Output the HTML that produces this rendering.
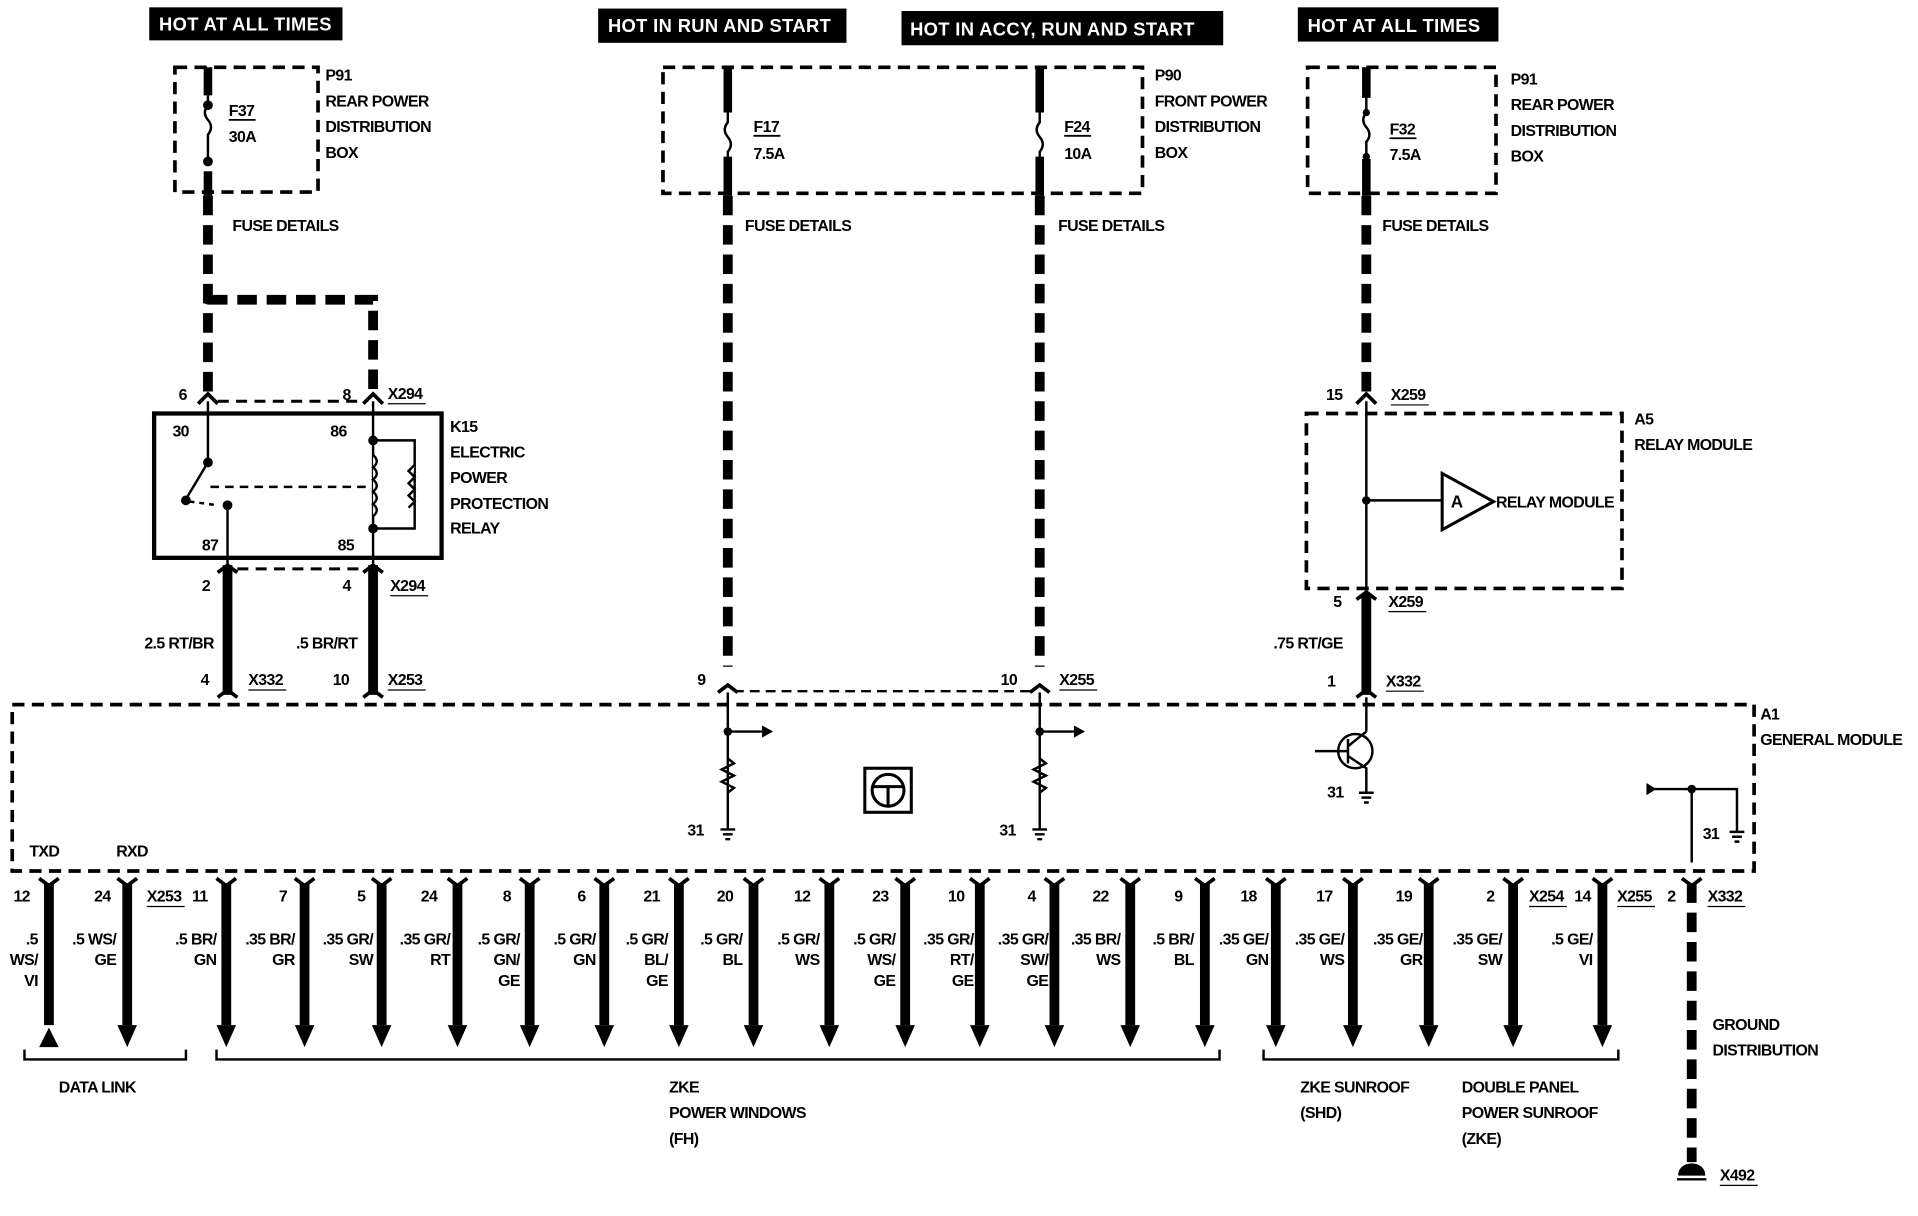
<!DOCTYPE html>
<html><head><meta charset="utf-8"><style>
html,body{margin:0;padding:0;background:#fff;}
svg{display:block}
text{font-family:"Liberation Sans",sans-serif;font-weight:bold;font-size:13px;fill:#000;letter-spacing:-0.5px}
.w{fill:#fff;font-size:15px;letter-spacing:0.3px}
</style></head><body>
<svg width="1918" height="1216" viewBox="0 0 1568 994" preserveAspectRatio="none" xmlns="http://www.w3.org/2000/svg">
<rect width="1568" height="994" fill="#fff"/>
<!-- header boxes -->
<rect x="122" y="6" width="158" height="27" fill="#000"/><text class="w" x="130" y="25">HOT AT ALL TIMES</text>
<rect x="489" y="7" width="203" height="28" fill="#000"/><text class="w" x="497" y="26">HOT IN RUN AND START</text>
<rect x="737" y="9" width="263" height="28" fill="#000"/><text class="w" x="744" y="29">HOT IN ACCY, RUN AND START</text>
<rect x="1061" y="6" width="164" height="28" fill="#000"/><text class="w" x="1069" y="26">HOT AT ALL TIMES</text>

<g fill="none" stroke="#000">
<!-- fuse boxes -->
<rect x="143" y="55" width="117" height="102" stroke-width="3" stroke-dasharray="10,6"/>
<rect x="542" y="55" width="392" height="103" stroke-width="3" stroke-dasharray="10,6"/>
<rect x="1069" y="55" width="154" height="103" stroke-width="3" stroke-dasharray="10,6"/>
<!-- left top wire -->
<line x1="170" y1="55" x2="170" y2="78" stroke-width="7"/>
<line x1="170" y1="140" x2="170" y2="160" stroke-width="7"/>
<line x1="170" y1="160" x2="170" y2="320" stroke-width="8" stroke-dasharray="16,8"/>
<polyline points="170,245 305,245 305,320" stroke-width="8" stroke-dasharray="16,8"/>
<!-- middle wires -->
<line x1="595" y1="55" x2="595" y2="92" stroke-width="7"/>
<line x1="595" y1="128" x2="595" y2="160" stroke-width="7"/>
<line x1="595" y1="160" x2="595" y2="545" stroke-width="8" stroke-dasharray="16,8"/>
<line x1="850" y1="55" x2="850" y2="92" stroke-width="7"/>
<line x1="850" y1="128" x2="850" y2="160" stroke-width="7"/>
<line x1="850" y1="160" x2="850" y2="545" stroke-width="8" stroke-dasharray="16,8"/>
<!-- right top -->
<line x1="1117" y1="55" x2="1117" y2="80" stroke-width="7"/>
<line x1="1117" y1="130" x2="1117" y2="160" stroke-width="7"/>
<line x1="1117" y1="160" x2="1117" y2="320" stroke-width="8" stroke-dasharray="16,8"/>
<!-- fuse symbols -->
<path d="M170 78 v8 q-5 6 0 12 q5 6 0 12 v22" stroke-width="2"/>
<path d="M595 92 v8 q-5 6 0 12 q5 6 0 12 v4" stroke-width="2"/>
<path d="M850 92 v8 q-5 6 0 12 q5 6 0 12 v4" stroke-width="2"/>
<path d="M1117 80 v12 q-5 6 0 12 q5 6 0 12 v14" stroke-width="2"/>
</g>
<circle cx="170" cy="86" r="4"/><circle cx="170" cy="132" r="4"/><circle cx="170" cy="245" r="4"/>
<circle cx="1117" cy="92" r="3"/><circle cx="1117" cy="128" r="3"/>

<!-- fuse labels -->
<text x="187" y="95">F37</text><line x1="187" y1="98" x2="209" y2="98" stroke="#000" stroke-width="1.5"/><text x="187" y="116">30A</text>
<text x="266" y="66">P91</text><text x="266" y="87">REAR POWER</text><text x="266" y="108">DISTRIBUTION</text><text x="266" y="129">BOX</text>
<text x="616" y="108">F17</text><line x1="616" y1="111" x2="638" y2="111" stroke="#000" stroke-width="1.5"/><text x="616" y="130">7.5A</text>
<text x="870" y="108">F24</text><line x1="870" y1="111" x2="892" y2="111" stroke="#000" stroke-width="1.5"/><text x="870" y="130">10A</text>
<text x="944" y="66">P90</text><text x="944" y="87">FRONT POWER</text><text x="944" y="108">DISTRIBUTION</text><text x="944" y="129">BOX</text>
<text x="1136" y="110">F32</text><line x1="1136" y1="113" x2="1158" y2="113" stroke="#000" stroke-width="1.5"/><text x="1136" y="131">7.5A</text>
<text x="1235" y="69">P91</text><text x="1235" y="90">REAR POWER</text><text x="1235" y="111">DISTRIBUTION</text><text x="1235" y="132">BOX</text>
<text x="190" y="189">FUSE DETAILS</text><text x="609" y="189">FUSE DETAILS</text><text x="865" y="189">FUSE DETAILS</text><text x="1130" y="189">FUSE DETAILS</text>

<!-- relay K15 -->
<g fill="none" stroke="#000">
<path d="M162 330 l8 -8 l8 8 M297 330 l8 -8 l8 8" stroke-width="3"/>
<line x1="178" y1="328" x2="297" y2="328" stroke-width="2.5" stroke-dasharray="9,6"/>
<rect x="126" y="338" width="235" height="118" stroke-width="3.5"/>
<line x1="170" y1="328" x2="170" y2="378" stroke-width="2"/>
<line x1="170" y1="378" x2="152" y2="408" stroke-width="2"/>
<line x1="172" y1="398" x2="300" y2="398" stroke-width="2" stroke-dasharray="7,5"/>
<line x1="155" y1="410" x2="178" y2="413" stroke-width="2" stroke-dasharray="4,4"/>
<line x1="186" y1="413" x2="186" y2="470" stroke-width="2"/>
<line x1="305" y1="328" x2="305" y2="470" stroke-width="2"/>
<path d="M305 360 h34 v72 h-34" stroke-width="2"/>
<path d="M305 372 q6 5 0 10 q6 5 0 10 q6 5 0 10 q6 5 0 10 q6 5 0 10" stroke-width="2" fill="#fff"/>
<path d="M339 380 l-5 5 l5 5 l-5 5 l5 5 l-5 5 l5 5 l-5 5" stroke-width="2" fill="#fff"/>
<path d="M178 468 l8 -6 l8 6 M297 468 l8 -6 l8 6" stroke-width="3"/>
<line x1="194" y1="465" x2="297" y2="465" stroke-width="2.5" stroke-dasharray="9,6"/>
<line x1="186" y1="462" x2="186" y2="568" stroke-width="8"/>
<line x1="305" y1="462" x2="305" y2="568" stroke-width="8"/>
<path d="M178 570 l8 -6 l8 6 M297 570 l8 -6 l8 6" stroke-width="3"/>
</g>
<circle cx="170" cy="378" r="4"/><circle cx="152" cy="409" r="4"/><circle cx="186" cy="413" r="4"/>
<circle cx="305" cy="360" r="4"/><circle cx="305" cy="432" r="4"/>
<text x="146" y="327">6</text><text x="280" y="327">8</text><text x="317" y="326">X294</text><line x1="317" y1="330" x2="348" y2="330" stroke="#000"/>
<text x="141" y="357">30</text><text x="270" y="357">86</text><text x="165" y="450">87</text><text x="276" y="450">85</text>
<text x="368" y="353">K15</text><text x="368" y="374">ELECTRIC</text><text x="368" y="395">POWER</text><text x="368" y="416">PROTECTION</text><text x="368" y="436">RELAY</text>
<text x="165" y="483">2</text><text x="280" y="483">4</text><text x="319" y="483">X294</text><line x1="319" y1="487" x2="350" y2="487" stroke="#000"/>
<text x="118" y="530">2.5 RT/BR</text><text x="242" y="530">.5 BR/RT</text>
<text x="164" y="560">4</text><text x="272" y="560">10</text><text x="203" y="560">X332</text><line x1="203" y1="564" x2="234" y2="564" stroke="#000"/><text x="317" y="560">X253</text><line x1="317" y1="564" x2="348" y2="564" stroke="#000"/>

<!-- middle connectors -->
<g fill="none" stroke="#000">
<path d="M587 566 l8 -6 l8 6 M842 566 l8 -6 l8 6" stroke-width="3"/>
<line x1="600" y1="565" x2="842" y2="565" stroke-width="2" stroke-dasharray="8,5"/>
<line x1="595" y1="566" x2="595" y2="678" stroke-width="2"/>
<line x1="850" y1="566" x2="850" y2="678" stroke-width="2"/>
<path d="M595 598 h28 M850 598 h28" stroke-width="2"/>
<path d="M595 620 l5 4 l-10 5 l10 5 l-10 5 l10 5 l-5 4" stroke-width="2"/>
<path d="M850 620 l5 4 l-10 5 l10 5 l-10 5 l10 5 l-5 4" stroke-width="2"/>
<rect x="707" y="628" width="38" height="36" stroke-width="2.5"/>
<circle cx="726" cy="646" r="13" stroke-width="2.5"/>
<path d="M714 643 h24 M726 643 v16" stroke-width="2.5"/>
</g>
<path d="M623 593 l9 5 l-9 5z M878 593 l9 5 l-9 5z"/>
<circle cx="595" cy="598" r="3.5"/><circle cx="850" cy="598" r="3.5"/>
<path d="M589 678 h12 M591 682 h8 M593 686 h4 M844 678 h12 M846 682 h8 M848 686 h4" stroke="#000" stroke-width="2"/>
<text x="570" y="560">9</text><text x="818" y="560">10</text><text x="866" y="560">X255</text><line x1="866" y1="564" x2="897" y2="564" stroke="#000"/>
<text x="562" y="683">31</text><text x="817" y="683">31</text>

<!-- A5 relay module -->
<g fill="none" stroke="#000">
<path d="M1109 330 l8 -8 l8 8" stroke-width="3"/>
<rect x="1068" y="338" width="258" height="143" stroke-width="3" stroke-dasharray="10,6"/>
<line x1="1117" y1="328" x2="1117" y2="490" stroke-width="2"/>
<line x1="1117" y1="409" x2="1178" y2="409" stroke-width="2"/>
<path d="M1179 387 v46 l42 -23z" stroke-width="2.5"/>
<path d="M1109 490 l8 -6 l8 6" stroke-width="3"/>
<line x1="1117" y1="486" x2="1117" y2="568" stroke-width="8"/>
<path d="M1109 570 l8 -6 l8 6" stroke-width="3"/>
<line x1="1117" y1="570" x2="1117" y2="598" stroke-width="2"/>
<circle cx="1108" cy="614" r="14" stroke-width="2"/>
<path d="M1102 604 v20 M1102 610 l15 -12 M1102 618 l15 10 v20 M1075 614 h27" stroke-width="2"/>
</g>
<circle cx="1117" cy="409" r="3.5"/>
<path d="M1111 648 h12 M1113 652 h8 M1115 656 h4" stroke="#000" stroke-width="2"/>
<text x="1186" y="415" style="font-size:14px">A</text>
<text x="1223" y="415">RELAY MODULE</text>
<text x="1084" y="327">15</text><text x="1137" y="327">X259</text><line x1="1137" y1="331" x2="1168" y2="331" stroke="#000"/>
<text x="1336" y="347">A5</text><text x="1336" y="368">RELAY MODULE</text>
<text x="1090" y="496">5</text><text x="1135" y="496">X259</text><line x1="1135" y1="500" x2="1166" y2="500" stroke="#000"/>
<text x="1041" y="530">.75 RT/GE</text>
<text x="1085" y="561">1</text><text x="1133" y="561">X332</text><line x1="1133" y1="565" x2="1164" y2="565" stroke="#000"/>
<text x="1085" y="652">31</text>

<!-- A1 general module -->
<rect x="10" y="576" width="1424" height="136" fill="none" stroke="#000" stroke-width="3" stroke-dasharray="10,6"/>
<text x="1439" y="588">A1</text><text x="1439" y="609">GENERAL MODULE</text>
<g fill="none" stroke="#000" stroke-width="2">
<path d="M1350 645 h70 v35 M1383 645 v60"/>
</g>
<path d="M1346 640 l8 5 l-8 5z"/>
<circle cx="1383" cy="645" r="3.5"/>
<path d="M1414 680 h12 M1416 684 h8 M1418 688 h4" stroke="#000" stroke-width="2"/>
<text x="1392" y="686">31</text>
<text x="24" y="700">TXD</text><text x="95" y="700">RXD</text>

<!-- bottom pins -->
<g fill="none" stroke="#000">
<path d="M32 718 l8 6 l8 -6 M96 718 l8 6 l8 -6 M177 718 l8 6 l8 -6 M241 718 l8 6 l8 -6 M304 718 l8 6 l8 -6 M366 718 l8 6 l8 -6 M425 718 l8 6 l8 -6 M486 718 l8 6 l8 -6 M547 718 l8 6 l8 -6 M608 718 l8 6 l8 -6 M670 718 l8 6 l8 -6 M732 718 l8 6 l8 -6 M793 718 l8 6 l8 -6 M854 718 l8 6 l8 -6 M916 718 l8 6 l8 -6 M977 718 l8 6 l8 -6 M1035 718 l8 6 l8 -6 M1098 718 l8 6 l8 -6 M1160 718 l8 6 l8 -6 M1229 718 l8 6 l8 -6 M1302 718 l8 6 l8 -6 M1375 718 l8 6 l8 -6" stroke-width="3"/>
<path d="M40 722 V838 M104 722 V838 M185 722 V838 M249 722 V838 M312 722 V838 M374 722 V838 M433 722 V838 M494 722 V838 M555 722 V838 M616 722 V838 M678 722 V838 M740 722 V838 M801 722 V838 M862 722 V838 M924 722 V838 M985 722 V838 M1043 722 V838 M1106 722 V838 M1168 722 V838 M1237 722 V838 M1310 722 V838" stroke-width="8"/>
<line x1="1383" y1="722" x2="1383" y2="950" stroke-width="8" stroke-dasharray="16,8"/>
<path d="M20 858 v8 h132 v-8 M177 858 v8 h820 v-8 M1033 858 v8 h290 v-8" stroke-width="2"/>
</g>
<path d="M32 856 l8 -16 l8 16z"/>
<g>
<path d="M96 838 l8 18 l8 -18z M177 838 l8 18 l8 -18z M241 838 l8 18 l8 -18z M304 838 l8 18 l8 -18z M366 838 l8 18 l8 -18z M425 838 l8 18 l8 -18z M486 838 l8 18 l8 -18z M547 838 l8 18 l8 -18z M608 838 l8 18 l8 -18z M670 838 l8 18 l8 -18z M732 838 l8 18 l8 -18z M793 838 l8 18 l8 -18z M854 838 l8 18 l8 -18z M916 838 l8 18 l8 -18z M977 838 l8 18 l8 -18z M1035 838 l8 18 l8 -18z M1098 838 l8 18 l8 -18z M1160 838 l8 18 l8 -18z M1229 838 l8 18 l8 -18z M1302 838 l8 18 l8 -18z"/>
</g>
<path d="M1373 960 a10 8 0 0 1 20 0z M1371 964 h24" stroke="#000" stroke-width="2"/>
<path d="M1373 960 a10 8 0 0 1 20 0z"/>

<!-- pin numbers -->
<text x="11" y="737">12</text><text x="77" y="737">24</text><text x="120" y="737">X253</text><line x1="120" y1="741" x2="151" y2="741" stroke="#000"/><text x="157" y="737">11</text>
<text x="228" y="737">7</text><text x="292" y="737">5</text><text x="344" y="737">24</text><text x="411" y="737">8</text><text x="472" y="737">6</text><text x="526" y="737">21</text><text x="586" y="737">20</text><text x="649" y="737">12</text><text x="713" y="737">23</text><text x="775" y="737">10</text><text x="840" y="737">4</text><text x="893" y="737">22</text><text x="960" y="737">9</text><text x="1014" y="737">18</text><text x="1076" y="737">17</text><text x="1141" y="737">19</text><text x="1215" y="737">2</text><text x="1250" y="737">X254</text><line x1="1250" y1="741" x2="1281" y2="741" stroke="#000"/><text x="1287" y="737">14</text><text x="1322" y="737">X255</text><line x1="1322" y1="741" x2="1353" y2="741" stroke="#000"/><text x="1363" y="737">2</text><text x="1396" y="737">X332</text><line x1="1396" y1="741" x2="1427" y2="741" stroke="#000"/>

<!-- wire labels -->
<g text-anchor="end">
<text x="31" y="772">.5</text><text x="31" y="789">WS/</text><text x="31" y="806">VI</text>
<text x="95" y="772">.5 WS/</text><text x="95" y="789">GE</text>
<text x="177" y="772">.5 BR/</text><text x="177" y="789">GN</text>
<text x="241" y="772">.35 BR/</text><text x="241" y="789">GR</text>
<text x="305" y="772">.35 GR/</text><text x="305" y="789">SW</text>
<text x="368" y="772">.35 GR/</text><text x="368" y="789">RT</text>
<text x="425" y="772">.5 GR/</text><text x="425" y="789">GN/</text><text x="425" y="806">GE</text>
<text x="487" y="772">.5 GR/</text><text x="487" y="789">GN</text>
<text x="546" y="772">.5 GR/</text><text x="546" y="789">BL/</text><text x="546" y="806">GE</text>
<text x="607" y="772">.5 GR/</text><text x="607" y="789">BL</text>
<text x="670" y="772">.5 GR/</text><text x="670" y="789">WS</text>
<text x="732" y="772">.5 GR/</text><text x="732" y="789">WS/</text><text x="732" y="806">GE</text>
<text x="796" y="772">.35 GR/</text><text x="796" y="789">RT/</text><text x="796" y="806">GE</text>
<text x="857" y="772">.35 GR/</text><text x="857" y="789">SW/</text><text x="857" y="806">GE</text>
<text x="916" y="772">.35 BR/</text><text x="916" y="789">WS</text>
<text x="976" y="772">.5 BR/</text><text x="976" y="789">BL</text>
<text x="1037" y="772">.35 GE/</text><text x="1037" y="789">GN</text>
<text x="1099" y="772">.35 GE/</text><text x="1099" y="789">WS</text>
<text x="1163" y="772">.35 GE/</text><text x="1163" y="789">GR</text>
<text x="1228" y="772">.35 GE/</text><text x="1228" y="789">SW</text>
<text x="1302" y="772">.5 GE/</text><text x="1302" y="789">VI</text>
</g>
<text x="48" y="893">DATA LINK</text>
<text x="547" y="893">ZKE</text><text x="547" y="914">POWER WINDOWS</text><text x="547" y="935">(FH)</text>
<text x="1063" y="893">ZKE SUNROOF</text><text x="1063" y="914">(SHD)</text>
<text x="1195" y="893">DOUBLE PANEL</text><text x="1195" y="914">POWER SUNROOF</text><text x="1195" y="935">(ZKE)</text>
<text x="1400" y="842">GROUND</text><text x="1400" y="863">DISTRIBUTION</text>
<text x="1406" y="965">X492</text><line x1="1406" y1="969" x2="1437" y2="969" stroke="#000"/>
</svg>
</body></html>
